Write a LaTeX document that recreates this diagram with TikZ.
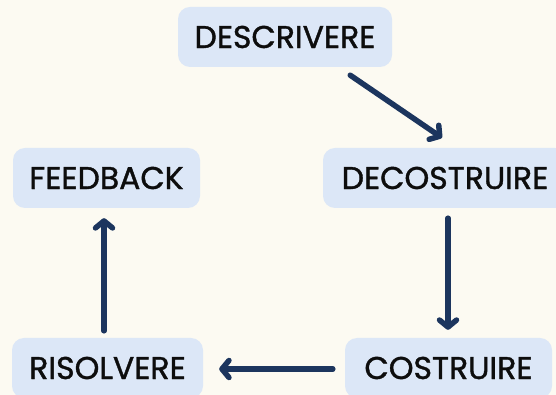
\documentclass[tikz,border=0pt]{standalone}
\usepackage{fontspec}
\setmainfont[FakeBold=1.2,AutoFakeBold=1.2]{Poppins}
\usetikzlibrary{arrows.meta}
\definecolor{bgc}{HTML}{FCFAF2}
\definecolor{boxc}{HTML}{DCE7F7}
\definecolor{navy}{HTML}{1C355E}
\definecolor{txt}{HTML}{0D0D0D}
\tikzset{
  box/.style={rectangle, rounded corners=12pt, fill=boxc, minimum height=60pt,
    inner sep=0pt, text=txt, font=\fontsize{31.5}{36}\selectfont\bfseries},
  arr/.style={draw=navy, line width=5.5pt, line cap=round,
    -{Straight Barb[length=7pt,width=17pt,round]}}
}
\begin{document}
\begin{tikzpicture}[x=1pt,y=1pt]
\useasboundingbox (0,0) rectangle (556,395);
\fill[bgc] (0,0) rectangle (556,395);
\begin{scope}
\clip (0,0) rectangle (556,395);
\node[box, minimum width=214pt] (desc) at (285,358) {DESCRIVERE};
\node[box, minimum width=187pt] (feed) at (106.5,217) {FEEDBACK};
\node[box, minimum width=244pt] (decon) at (445,217) {DECOSTRUIRE};
\node[box, minimum width=191pt] (riso) at (107.5,27) {RISOLVERE};
\node[box, minimum width=207pt] (cost) at (448.5,27) {COSTRUIRE};
\end{scope}
\draw[arr] ([shift={(-42,-8)}]desc.south east) -- ([shift={(-3,10)}]decon.north);
\draw[arr] ([shift={(3,-10)}]decon.south) -- ([shift={(-0.5,8)}]cost.north);
\draw[arr] ([shift={(-12,-1)}]cost.west) -- ([shift={(16,-1)}]riso.east);
\draw[arr] ([shift={(-3.5,7)}]riso.north) -- ([shift={(-2.5,-10)}]feed.south);
\end{tikzpicture}
\end{document}
